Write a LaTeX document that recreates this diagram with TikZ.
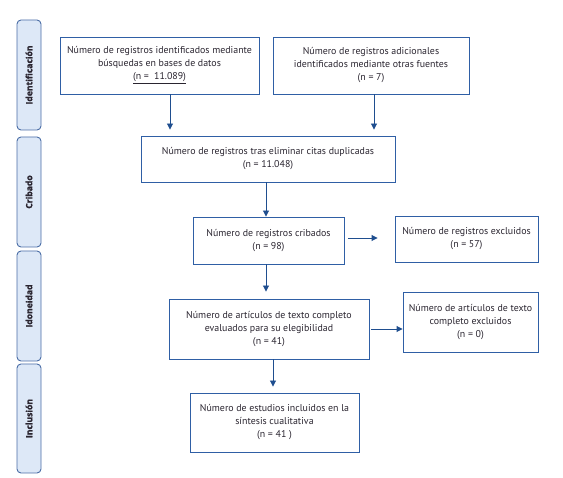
\documentclass[tikz,border=0pt]{standalone}
\usepackage{fontspec}
\setmainfont{PT Sans}
\newfontfamily\sidefont[FakeBold=1.5]{Open Sans}
\usetikzlibrary{arrows.meta}
\definecolor{boxblue}{HTML}{2F5FA5}
\definecolor{arrblue}{HTML}{1F4E8F}
\definecolor{sidefill}{HTML}{DDE8F7}
\definecolor{sideline}{HTML}{4A6DA6}
\definecolor{txt}{HTML}{2A2530}
\tikzset{
  flowbox/.style={draw=boxblue, line width=0.9pt, inner sep=0pt, align=center,
    text=txt, font=\fontsize{9.9}{13}\selectfont},
  sidebox/.style={draw=sideline, fill=sidefill, line width=0.9pt, rounded corners=4pt,
    minimum width=24, inner sep=0pt, text=txt,
    font=\sidefont\fontsize{8.6}{10}\selectfont\bfseries},
  arr/.style={draw=arrblue, line width=0.9pt, -{Triangle[width=6pt,length=6pt]}}
}
\begin{document}
\begin{tikzpicture}[x=1pt,y=-1pt]
\useasboundingbox (0,0) rectangle (563,478);
% side labels
\node[sidebox, minimum height=110] (s1) at (29,75) {\rotatebox{90}{Identificación}};
\node[sidebox, minimum height=110] (s2) at (29,192) {\rotatebox{90}{Cribado}};
\node[sidebox, minimum height=110] (s3) at (29,306) {\rotatebox{90}{Idoneidad}};
\node[sidebox, minimum height=109] (s4) at (29,418.5) {\rotatebox{90}{Inclusión}};
% boxes
\node[flowbox, minimum width=199, minimum height=57] (A) at (159.5,65.5)
  {Número de registros identificados mediante\\búsquedas en bases de datos\\\underline{(n =~~11.089)}};
\node[flowbox, minimum width=196, minimum height=57] (B) at (371,65.5)
  {Número de registros adicionales\\identificados mediante otras fuentes\\(n = 7)};
\node[flowbox, minimum width=254, minimum height=46] (C) at (268,159)
  {Número de registros tras eliminar citas duplicadas\\(n = 11.048)};
\node[flowbox, minimum width=151, minimum height=47] (D) at (268.5,240.5)
  {Número de registros cribados\\(n = 98)};
\node[flowbox, minimum width=143, minimum height=46] (E) at (466.5,239)
  {Número de registros excluidos\\(n = 57)};
\node[flowbox, minimum width=200, minimum height=60] (F) at (269,329)
  {Número de artículos de texto completo\\evaluados para su elegibilidad\\(n = 41)};
\node[flowbox, minimum width=135, minimum height=60] (G) at (470.5,322)
  {Número de artículos de texto\\completo excluidos\\(n = 0)};
\node[flowbox, minimum width=169, minimum height=59] (H) at (274.5,422.5)
  {Número de estudios incluidos en la\\síntesis cualitativa\\(n = 41 )};
% arrows
\draw[arr, shorten >=6pt] ([xshift=10.5pt]A.south) -- ([xshift=10.5pt]A.south |- C.north);
\draw[arr, shorten >=6pt] ([xshift=3pt]B.south) -- ([xshift=3pt]B.south |- C.north);
\draw[arr] ([xshift=-2pt]C.south) -- ([xshift=-2pt]C.south |- D.north);
\draw[arr, shorten <=4pt, shorten >=17pt] ([yshift=2.5pt]D.east) -- ([yshift=2.5pt]D.east -| E.west);
\draw[arr, shorten >=7pt] ([xshift=-2.5pt]D.south) -- ([xshift=-2.5pt]D.south |- F.north);
\draw[arr, shorten <=2pt] (F.east) -- (F.east -| G.west);
\draw[arr, shorten >=6pt] ([xshift=4pt]F.south) -- ([xshift=4pt]F.south |- H.north);
\end{tikzpicture}
\end{document}
